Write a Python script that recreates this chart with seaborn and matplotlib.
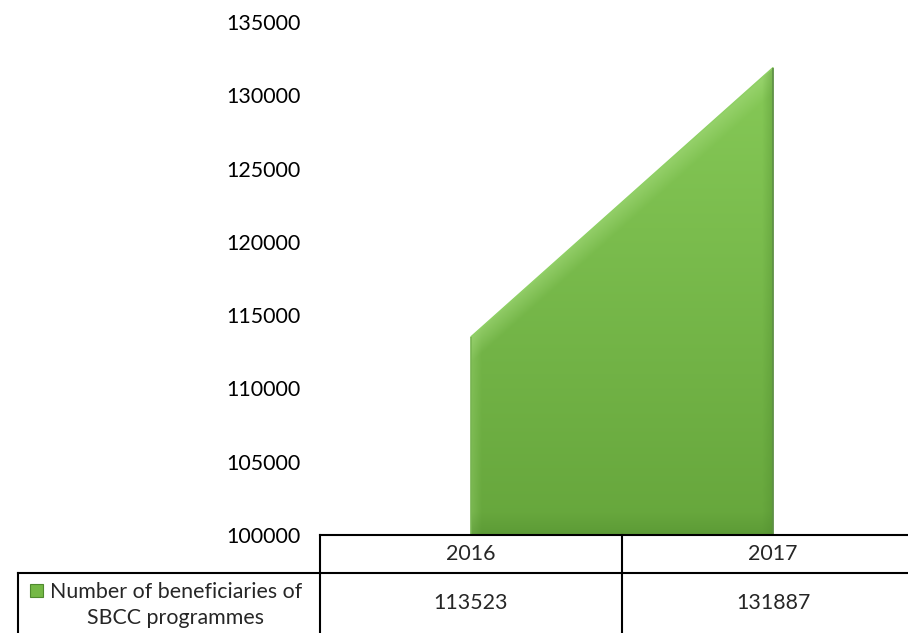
import numpy as np
import pandas as pd
import matplotlib
matplotlib.use("Agg")
import matplotlib.pyplot as plt
import seaborn as sns
from matplotlib.patches import Rectangle
from matplotlib.colors import to_rgb

# ---- data ----
years = ["2016", "2017"]
values = [113523, 131887]
series_label = "Number of beneficiaries of\nSBCC programmes"
y_ticks = [100000, 105000, 110000, 115000, 120000, 125000, 130000, 135000]

df = pd.DataFrame({"year": years, "value": values})
df["pos"] = np.arange(len(df))

sns.set_theme(style="white")
plt.rcParams["font.family"] = ["Lato", "DejaVu Sans"]
FS = 15.4

fig = plt.figure(figsize=(9.08, 6.33), dpi=100)
W, H = 908, 633
ax = fig.add_axes([320 / W, 98 / H, 604 / W, 513 / H])

ymin, ymax = y_ticks[0], y_ticks[-1]

# area
poly = ax.fill_between(df["pos"], ymin, df["value"], color="#74B845", linewidth=0, zorder=2)

# gradient shading clipped to the area (bevel-like look)
ny, nx = 400, 400
vmax = max(values)
yy, xx = np.mgrid[0:1:ny * 1j, 0:1:nx * 1j]
light = np.array(to_rgb("#86C957"))
dark = np.array(to_rgb("#66A63C"))
img = dark[None, None, :] * (1 - yy[..., None]) + light[None, None, :] * yy[..., None]
bev = 0.035
y0n = (values[0] - ymin) / (vmax - ymin)
top_line = y0n + (1 - y0n) * xx
dist_top = top_line - yy
left_m = np.clip(1 - xx / bev, 0, 1)[..., None]
right_m = np.clip(1 - (1 - xx) / bev, 0, 1)[..., None]
bottom_m = np.clip(1 - yy / (bev * 1.4), 0, 1)[..., None]
top_m = np.clip(1 - dist_top / (bev * 1.6), 0, 1)[..., None]
hl = np.array(to_rgb("#A6DC7E"))
sh = np.array(to_rgb("#4E8A2D"))
img = img * (1 - 0.55 * top_m) + hl * 0.55 * top_m
img = img * (1 - 0.3 * left_m) + hl * 0.3 * left_m
img = img * (1 - 0.35 * right_m) + sh * 0.35 * right_m
img = img * (1 - 0.4 * bottom_m) + sh * 0.4 * bottom_m
im = ax.imshow(np.clip(img, 0, 1), extent=[df["pos"].iloc[0], df["pos"].iloc[-1], ymin, vmax],
               origin="lower", aspect="auto", zorder=3, interpolation="bilinear")
im.set_clip_path(poly.get_paths()[0], ax.transData)

# outline of the area
sns.lineplot(x=df["pos"], y=df["value"], ax=ax, color="#8ED064", linewidth=1.0, zorder=4)
ax.vlines(df["pos"], ymin, df["value"], colors=["#78B552", "#5E8F47"], linewidth=1.2, zorder=4)

ax.set_xlim(-0.5, len(df) - 0.5)
ax.set_ylim(ymin, ymax)
ax.set_yticks(y_ticks)
ax.set_yticklabels([str(t) for t in y_ticks], fontsize=FS, color="#000000")
ax.tick_params(axis="y", length=0, pad=14)
ax.set_xticks([])
ax.set_xlabel("")
ax.set_ylabel("")
for s in ax.spines.values():
    s.set_visible(False)

# ---- data table ----
tr = ax.get_xaxis_transform()
px = 1 / 513.0
row1_bot = -38 * px
tab_bot = -140 * px
n = len(df)
lw = 1.5
kw = dict(transform=tr, clip_on=False, color="black", linewidth=lw, solid_capstyle="projecting", zorder=5)
ax.plot([-0.5, n - 0.5], [0, 0], **kw)
ax.plot([-1.5, n - 0.5], [row1_bot, row1_bot], **kw)
for b in np.arange(-0.5, n + 0.5, 1.0):
    ax.plot([b, b], [0, tab_bot], **kw)
ax.plot([-1.5, -1.5], [row1_bot, tab_bot], **kw)

for i, (yr, v) in enumerate(zip(df["year"], df["value"])):
    ax.text(i, -19 * px, yr, transform=tr, ha="center", va="center", fontsize=FS, clip_on=False)
    ax.text(i, -68 * px, str(v), transform=tr, ha="center", va="center", fontsize=FS, clip_on=False)

ax.text(-0.978, -70 * px, series_label, transform=tr, ha="center", va="center",
        multialignment="center", fontsize=FS, linespacing=1.38, clip_on=False)
ax.add_patch(Rectangle((-1.5 + 12 / 302, -62 * px), 13 / 302, 13 * px, transform=tr,
                       facecolor="#74B845", edgecolor="#4F8A2E", linewidth=0.8, clip_on=False, zorder=6))

fig.savefig("out.png", dpi=100)
